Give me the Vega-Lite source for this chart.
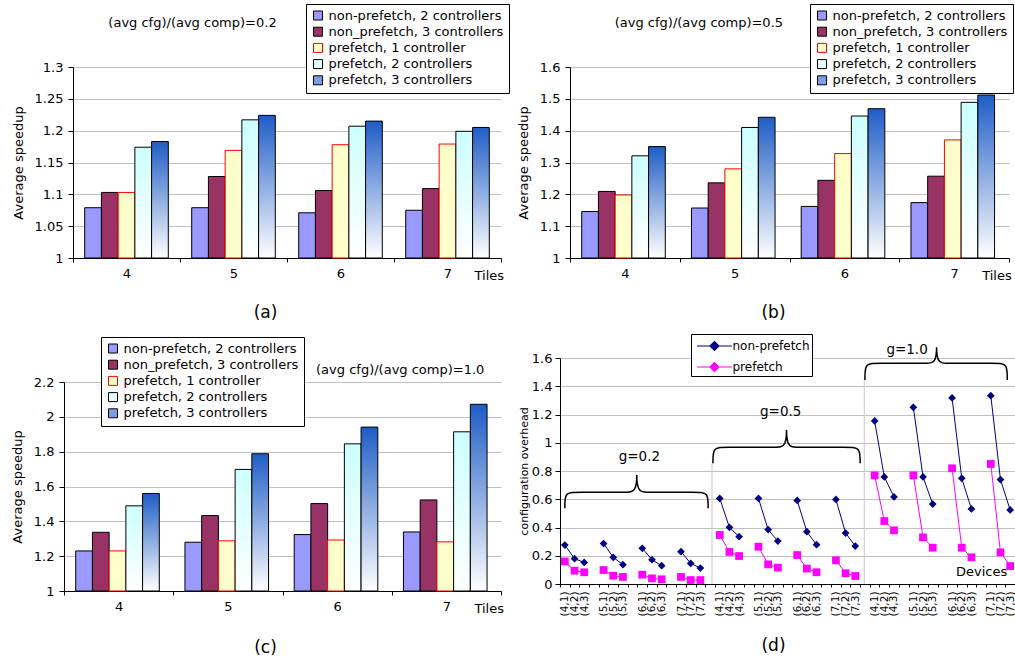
{
"$schema": "https://vega.github.io/schema/vega-lite/v6.json",
"background": "white",
"padding": {"left": 11, "top": 3, "right": 0, "bottom": 0},
"datasets": {
"a": [
{"t":"4","s":"non-prefetch, 2 controllers","v":1.079},{"t":"4","s":"non_prefetch, 3 controllers","v":1.103},{"t":"4","s":"prefetch, 1 controller","v":1.103},{"t":"4","s":"prefetch, 2 controllers","v":1.174},{"t":"4","s":"prefetch, 3 controllers","v":1.183},
{"t":"5","s":"non-prefetch, 2 controllers","v":1.079},{"t":"5","s":"non_prefetch, 3 controllers","v":1.128},{"t":"5","s":"prefetch, 1 controller","v":1.169},{"t":"5","s":"prefetch, 2 controllers","v":1.217},{"t":"5","s":"prefetch, 3 controllers","v":1.224},
{"t":"6","s":"non-prefetch, 2 controllers","v":1.071},{"t":"6","s":"non_prefetch, 3 controllers","v":1.106},{"t":"6","s":"prefetch, 1 controller","v":1.178},{"t":"6","s":"prefetch, 2 controllers","v":1.207},{"t":"6","s":"prefetch, 3 controllers","v":1.215},
{"t":"7","s":"non-prefetch, 2 controllers","v":1.075},{"t":"7","s":"non_prefetch, 3 controllers","v":1.109},{"t":"7","s":"prefetch, 1 controller","v":1.179},{"t":"7","s":"prefetch, 2 controllers","v":1.199},{"t":"7","s":"prefetch, 3 controllers","v":1.205}
],
"b": [
{"t":"4","s":"non-prefetch, 2 controllers","v":1.146},{"t":"4","s":"non_prefetch, 3 controllers","v":1.209},{"t":"4","s":"prefetch, 1 controller","v":1.198},{"t":"4","s":"prefetch, 2 controllers","v":1.321},{"t":"4","s":"prefetch, 3 controllers","v":1.350},
{"t":"5","s":"non-prefetch, 2 controllers","v":1.157},{"t":"5","s":"non_prefetch, 3 controllers","v":1.236},{"t":"5","s":"prefetch, 1 controller","v":1.280},{"t":"5","s":"prefetch, 2 controllers","v":1.410},{"t":"5","s":"prefetch, 3 controllers","v":1.442},
{"t":"6","s":"non-prefetch, 2 controllers","v":1.162},{"t":"6","s":"non_prefetch, 3 controllers","v":1.244},{"t":"6","s":"prefetch, 1 controller","v":1.328},{"t":"6","s":"prefetch, 2 controllers","v":1.446},{"t":"6","s":"prefetch, 3 controllers","v":1.469},
{"t":"7","s":"non-prefetch, 2 controllers","v":1.174},{"t":"7","s":"non_prefetch, 3 controllers","v":1.257},{"t":"7","s":"prefetch, 1 controller","v":1.371},{"t":"7","s":"prefetch, 2 controllers","v":1.489},{"t":"7","s":"prefetch, 3 controllers","v":1.512}
],
"c": [
{"t":"4","s":"non-prefetch, 2 controllers","v":1.230},{"t":"4","s":"non_prefetch, 3 controllers","v":1.337},{"t":"4","s":"prefetch, 1 controller","v":1.230},{"t":"4","s":"prefetch, 2 controllers","v":1.489},{"t":"4","s":"prefetch, 3 controllers","v":1.560},
{"t":"5","s":"non-prefetch, 2 controllers","v":1.280},{"t":"5","s":"non_prefetch, 3 controllers","v":1.433},{"t":"5","s":"prefetch, 1 controller","v":1.288},{"t":"5","s":"prefetch, 2 controllers","v":1.698},{"t":"5","s":"prefetch, 3 controllers","v":1.788},
{"t":"6","s":"non-prefetch, 2 controllers","v":1.324},{"t":"6","s":"non_prefetch, 3 controllers","v":1.502},{"t":"6","s":"prefetch, 1 controller","v":1.293},{"t":"6","s":"prefetch, 2 controllers","v":1.845},{"t":"6","s":"prefetch, 3 controllers","v":1.941},
{"t":"7","s":"non-prefetch, 2 controllers","v":1.339},{"t":"7","s":"non_prefetch, 3 controllers","v":1.523},{"t":"7","s":"prefetch, 1 controller","v":1.282},{"t":"7","s":"prefetch, 2 controllers","v":1.914},{"t":"7","s":"prefetch, 3 controllers","v":2.072}
],
"d": [
{"k":"0.2 (4,1)","grp":"0.2-4","non-prefetch":0.276,"prefetch":0.160},
{"k":"0.2 (4,2)","grp":"0.2-4","non-prefetch":0.179,"prefetch":0.094},
{"k":"0.2 (4,3)","grp":"0.2-4","non-prefetch":0.153,"prefetch":0.083},
{"k":"0.2 (5,1)","grp":"0.2-5","non-prefetch":0.286,"prefetch":0.099},
{"k":"0.2 (5,2)","grp":"0.2-5","non-prefetch":0.189,"prefetch":0.059},
{"k":"0.2 (5,3)","grp":"0.2-5","non-prefetch":0.137,"prefetch":0.050},
{"k":"0.2 (6,1)","grp":"0.2-6","non-prefetch":0.253,"prefetch":0.066},
{"k":"0.2 (6,2)","grp":"0.2-6","non-prefetch":0.172,"prefetch":0.040},
{"k":"0.2 (6,3)","grp":"0.2-6","non-prefetch":0.130,"prefetch":0.033},
{"k":"0.2 (7,1)","grp":"0.2-7","non-prefetch":0.229,"prefetch":0.050},
{"k":"0.2 (7,2)","grp":"0.2-7","non-prefetch":0.146,"prefetch":0.028},
{"k":"0.2 (7,3)","grp":"0.2-7","non-prefetch":0.113,"prefetch":0.028},
{"k":"0.5 (4,1)","grp":"0.5-4","non-prefetch":0.606,"prefetch":0.347},
{"k":"0.5 (4,2)","grp":"0.5-4","non-prefetch":0.401,"prefetch":0.227},
{"k":"0.5 (4,3)","grp":"0.5-4","non-prefetch":0.335,"prefetch":0.198},
{"k":"0.5 (5,1)","grp":"0.5-5","non-prefetch":0.606,"prefetch":0.264},
{"k":"0.5 (5,2)","grp":"0.5-5","non-prefetch":0.385,"prefetch":0.139},
{"k":"0.5 (5,3)","grp":"0.5-5","non-prefetch":0.304,"prefetch":0.116},
{"k":"0.5 (6,1)","grp":"0.5-6","non-prefetch":0.592,"prefetch":0.205},
{"k":"0.5 (6,2)","grp":"0.5-6","non-prefetch":0.370,"prefetch":0.109},
{"k":"0.5 (6,3)","grp":"0.5-6","non-prefetch":0.278,"prefetch":0.083},
{"k":"0.5 (7,1)","grp":"0.5-7","non-prefetch":0.599,"prefetch":0.168},
{"k":"0.5 (7,2)","grp":"0.5-7","non-prefetch":0.361,"prefetch":0.076},
{"k":"0.5 (7,3)","grp":"0.5-7","non-prefetch":0.269,"prefetch":0.057},
{"k":"1.0 (4,1)","grp":"1.0-4","non-prefetch":1.154,"prefetch":0.769},
{"k":"1.0 (4,2)","grp":"1.0-4","non-prefetch":0.758,"prefetch":0.446},
{"k":"1.0 (4,3)","grp":"1.0-4","non-prefetch":0.616,"prefetch":0.380},
{"k":"1.0 (5,1)","grp":"1.0-5","non-prefetch":1.251,"prefetch":0.769},
{"k":"1.0 (5,2)","grp":"1.0-5","non-prefetch":0.758,"prefetch":0.330},
{"k":"1.0 (5,3)","grp":"1.0-5","non-prefetch":0.566,"prefetch":0.257},
{"k":"1.0 (6,1)","grp":"1.0-6","non-prefetch":1.317,"prefetch":0.819},
{"k":"1.0 (6,2)","grp":"1.0-6","non-prefetch":0.748,"prefetch":0.257},
{"k":"1.0 (6,3)","grp":"1.0-6","non-prefetch":0.531,"prefetch":0.189},
{"k":"1.0 (7,1)","grp":"1.0-7","non-prefetch":1.333,"prefetch":0.850},
{"k":"1.0 (7,2)","grp":"1.0-7","non-prefetch":0.739,"prefetch":0.224},
{"k":"1.0 (7,3)","grp":"1.0-7","non-prefetch":0.524,"prefetch":0.127}
],
"braces": [
{"b":"0.2","i":0,"x":0.0,"y":0.536},{"b":"0.2","i":1,"x":0.0,"y":0.649},{"b":"0.2","i":2,"x":1.0,"y":0.649},{"b":"0.2","i":3,"x":6.4,"y":0.649},{"b":"0.2","i":4,"x":7.43,"y":0.649},{"b":"0.2","i":5,"x":7.43,"y":0.834},{"b":"0.2","i":6,"x":7.43,"y":0.649},{"b":"0.2","i":7,"x":8.46,"y":0.649},{"b":"0.2","i":8,"x":13.8,"y":0.649},{"b":"0.2","i":9,"x":14.8,"y":0.649},{"b":"0.2","i":10,"x":14.8,"y":0.536},
{"b":"0.5","i":0,"x":15.3,"y":0.854},{"b":"0.5","i":1,"x":15.3,"y":0.9675},{"b":"0.5","i":2,"x":16.3,"y":0.9675},{"b":"0.5","i":3,"x":21.9,"y":0.9675},{"b":"0.5","i":4,"x":22.9,"y":0.9675},{"b":"0.5","i":5,"x":22.9,"y":1.151},{"b":"0.5","i":6,"x":22.9,"y":0.9675},{"b":"0.5","i":7,"x":23.9,"y":0.9675},{"b":"0.5","i":8,"x":29.5,"y":0.9675},{"b":"0.5","i":9,"x":30.5,"y":0.9675},{"b":"0.5","i":10,"x":30.5,"y":0.854},
{"b":"1.0","i":0,"x":31.0,"y":1.444},{"b":"1.0","i":1,"x":31.0,"y":1.562},{"b":"1.0","i":2,"x":32.0,"y":1.562},{"b":"1.0","i":3,"x":37.4,"y":1.562},{"b":"1.0","i":4,"x":38.4,"y":1.562},{"b":"1.0","i":5,"x":38.4,"y":1.732},{"b":"1.0","i":6,"x":38.4,"y":1.562},{"b":"1.0","i":7,"x":39.4,"y":1.562},{"b":"1.0","i":8,"x":44.7,"y":1.562},{"b":"1.0","i":9,"x":45.7,"y":1.562},{"b":"1.0","i":10,"x":45.7,"y":1.444}
],
"bl": [
{"lab":"g=0.2","x":7.7,"y":0.901},{"lab":"g=0.5","x":22.3,"y":1.22},{"lab":"g=1.0","x":35.35,"y":1.657}
],
"sep": [
{"x":15.2,"y":0.854},{"x":30.93,"y":1.444}
]
},
"resolve": {"scale": {"fill": "independent", "stroke": "independent", "shape": "independent"}, "legend": {"fill": "independent", "stroke": "independent", "shape": "independent"}},
"spacing": 7,
"hconcat": [
{
"spacing": 16,
"resolve": {"scale": {"fill": "independent", "stroke": "independent", "shape": "independent"}, "legend": {"fill": "independent", "stroke": "independent", "shape": "independent"}},
"vconcat": [
{
"width": 428, "height": 191,
"layer": [
{"data": {"name": "a"},
"mark": {"type": "bar", "strokeWidth": 1},
"encoding": {
"x": {"field": "t", "type": "nominal", "scale": {"paddingInner": 0, "paddingOuter": 0}, "axis": {"title": "(a)", "titleX": 192, "titleY": 54, "titleBaseline": "middle", "titleFontSize": 17, "labelAngle": 0, "tickBand": "extent", "tickSize": 4, "grid": false}},
"xOffset": {"field": "s", "type": "nominal", "sort": null, "scale": {"domain": ["non-prefetch, 2 controllers","non_prefetch, 3 controllers","prefetch, 1 controller","prefetch, 2 controllers","prefetch, 3 controllers"], "paddingInner": 0, "paddingOuter": 0.7}},
"y": {"field": "v", "type": "quantitative", "scale": {"domain": [1, 1.3], "nice": false, "zero": false}, "axis": {"title": "Average speedup", "values": [1,1.05,1.1,1.15,1.2,1.25,1.3], "tickCount": 100, "format": "~g", "titlePadding": 9}},
"y2": {"datum": 1},
"fill": {"condition": [
{"test": "datum.s === 'prefetch, 2 controllers'", "value": {"gradient": "linear", "x1": 0, "y1": 0, "x2": 0, "y2": 1, "stops": [{"offset": 0, "color": "#CCFFFF"}, {"offset": 1, "color": "#FFFFFF"}]}},
{"test": "datum.s === 'prefetch, 3 controllers'", "value": {"gradient": "linear", "x1": 0, "y1": 0, "x2": 0, "y2": 1, "stops": [{"offset": 0, "color": "#1F5DC6"}, {"offset": 1, "color": "#FFFFFF"}]}}],
"field": "s", "type": "nominal",
"scale": {"domain": ["non-prefetch, 2 controllers","non_prefetch, 3 controllers","prefetch, 1 controller","prefetch, 2 controllers","prefetch, 3 controllers"], "range": ["#9999FF","#993366","#FFFFCC","#E6FFFF","#7E9CE0"]},
"legend": {"title": null, "orient": "none", "legendX": 233, "legendY": -63, "strokeColor": "black", "fillColor": "white", "padding": 5, "rowPadding": 2.2, "labelOffset": 4, "symbolOffset": 0.5, "symbolType": "square", "symbolSize": 81, "symbolStrokeWidth": 1, "labelFontSize": 13, "labelLimit": 300}},
"stroke": {"field": "s", "type": "nominal",
"scale": {"domain": ["non-prefetch, 2 controllers","non_prefetch, 3 controllers","prefetch, 1 controller","prefetch, 2 controllers","prefetch, 3 controllers"], "range": ["#000000","#000000","#FF0000","#000000","#000000"]},
"legend": {"title": null, "orient": "none", "legendX": 233, "legendY": -63, "strokeColor": "black", "fillColor": "white", "padding": 5, "rowPadding": 2.2, "labelOffset": 4, "symbolOffset": 0.5, "symbolType": "square", "symbolSize": 81, "symbolStrokeWidth": 1, "labelFontSize": 13, "labelLimit": 300}}
}},
{"data": {"values": [{"lab": "Tiles"}]},
"mark": {"type": "text", "align": "left", "baseline": "middle", "dx": 27, "dy": 18, "fontSize": 13},
"encoding": {"x": {"datum": "7"}, "y": {"datum": 1}, "text": {"field": "lab"}}},
{"data": {"values": [{"lab": "(avg cfg)/(avg comp)=0.2"}]},
"mark": {"type": "text", "align": "center", "baseline": "middle", "dx": 66, "dy": -44, "fontSize": 13},
"encoding": {"x": {"datum": "4"}, "y": {"datum": 1.3}, "text": {"field": "lab"}}}
]
},
{
"width": 428, "height": 209,
"layer": [
{"data": {"name": "c"},
"mark": {"type": "bar", "strokeWidth": 1},
"encoding": {
"x": {"field": "t", "type": "nominal", "scale": {"paddingInner": 0, "paddingOuter": 0, "range": [-9, 428]}, "axis": {"title": "(c)", "titleX": 192, "titleY": 56, "titleBaseline": "middle", "titleFontSize": 17, "labelAngle": 0, "tickBand": "extent", "tickSize": 4, "grid": false}},
"xOffset": {"field": "s", "type": "nominal", "sort": null, "scale": {"domain": ["non-prefetch, 2 controllers","non_prefetch, 3 controllers","prefetch, 1 controller","prefetch, 2 controllers","prefetch, 3 controllers"], "paddingInner": 0, "paddingOuter": 0.75}},
"y": {"field": "v", "type": "quantitative", "scale": {"domain": [1, 2.2], "nice": false, "zero": false}, "axis": {"title": "Average speedup", "values": [1,1.2,1.4,1.6,1.8,2,2.2], "tickCount": 100, "format": "~g", "titlePadding": 9, "offset": 9}},
"y2": {"datum": 1},
"fill": {"condition": [
{"test": "datum.s === 'prefetch, 2 controllers'", "value": {"gradient": "linear", "x1": 0, "y1": 0, "x2": 0, "y2": 1, "stops": [{"offset": 0, "color": "#CCFFFF"}, {"offset": 1, "color": "#FFFFFF"}]}},
{"test": "datum.s === 'prefetch, 3 controllers'", "value": {"gradient": "linear", "x1": 0, "y1": 0, "x2": 0, "y2": 1, "stops": [{"offset": 0, "color": "#1F5DC6"}, {"offset": 1, "color": "#FFFFFF"}]}}],
"field": "s", "type": "nominal",
"scale": {"domain": ["non-prefetch, 2 controllers","non_prefetch, 3 controllers","prefetch, 1 controller","prefetch, 2 controllers","prefetch, 3 controllers"], "range": ["#9999FF","#993366","#FFFFCC","#E6FFFF","#7E9CE0"]},
"legend": {"title": null, "orient": "none", "legendX": 28, "legendY": -45, "strokeColor": "black", "fillColor": "white", "padding": 5, "rowPadding": 2.2, "labelOffset": 4, "symbolOffset": 0.5, "symbolType": "square", "symbolSize": 81, "symbolStrokeWidth": 1, "labelFontSize": 13, "labelLimit": 300}},
"stroke": {"field": "s", "type": "nominal",
"scale": {"domain": ["non-prefetch, 2 controllers","non_prefetch, 3 controllers","prefetch, 1 controller","prefetch, 2 controllers","prefetch, 3 controllers"], "range": ["#000000","#000000","#FF0000","#000000","#000000"]},
"legend": {"title": null, "orient": "none", "legendX": 28, "legendY": -45, "strokeColor": "black", "fillColor": "white", "padding": 5, "rowPadding": 2.2, "labelOffset": 4, "symbolOffset": 0.5, "symbolType": "square", "symbolSize": 81, "symbolStrokeWidth": 1, "labelFontSize": 13, "labelLimit": 300}}
}},
{"data": {"values": [{"lab": "Tiles"}]},
"mark": {"type": "text", "align": "left", "baseline": "middle", "dx": 28, "dy": 18, "fontSize": 13},
"encoding": {"x": {"datum": "7"}, "y": {"datum": 1}, "text": {"field": "lab"}}},
{"data": {"values": [{"lab": "(avg cfg)/(avg comp)=1.0"}]},
"mark": {"type": "text", "align": "right", "baseline": "middle", "dx": 38, "dy": -12, "fontSize": 13},
"encoding": {"x": {"datum": "7"}, "y": {"datum": 2.2}, "text": {"field": "lab"}}}
]
}
]
},
{
"spacing": 13,
"resolve": {"scale": {"fill": "independent", "stroke": "independent", "shape": "independent"}, "legend": {"fill": "independent", "stroke": "independent", "shape": "independent"}},
"vconcat": [
{
"width": 439, "height": 191,
"layer": [
{"data": {"name": "b"},
"mark": {"type": "bar", "strokeWidth": 1},
"encoding": {
"x": {"field": "t", "type": "nominal", "scale": {"paddingInner": 0, "paddingOuter": 0}, "axis": {"title": "(b)", "titleX": 203, "titleY": 54, "titleBaseline": "middle", "titleFontSize": 17, "labelAngle": 0, "tickBand": "extent", "tickSize": 4, "grid": false}},
"xOffset": {"field": "s", "type": "nominal", "sort": null, "scale": {"domain": ["non-prefetch, 2 controllers","non_prefetch, 3 controllers","prefetch, 1 controller","prefetch, 2 controllers","prefetch, 3 controllers"], "paddingInner": 0, "paddingOuter": 0.77}},
"y": {"field": "v", "type": "quantitative", "scale": {"domain": [1, 1.6], "nice": false, "zero": false}, "axis": {"title": "Average speedup", "values": [1,1.1,1.2,1.3,1.4,1.5,1.6], "tickCount": 100, "format": "~g", "titlePadding": 9}},
"y2": {"datum": 1},
"fill": {"condition": [
{"test": "datum.s === 'prefetch, 2 controllers'", "value": {"gradient": "linear", "x1": 0, "y1": 0, "x2": 0, "y2": 1, "stops": [{"offset": 0, "color": "#CCFFFF"}, {"offset": 1, "color": "#FFFFFF"}]}},
{"test": "datum.s === 'prefetch, 3 controllers'", "value": {"gradient": "linear", "x1": 0, "y1": 0, "x2": 0, "y2": 1, "stops": [{"offset": 0, "color": "#1F5DC6"}, {"offset": 1, "color": "#FFFFFF"}]}}],
"field": "s", "type": "nominal",
"scale": {"domain": ["non-prefetch, 2 controllers","non_prefetch, 3 controllers","prefetch, 1 controller","prefetch, 2 controllers","prefetch, 3 controllers"], "range": ["#9999FF","#993366","#FFFFCC","#E6FFFF","#7E9CE0"]},
"legend": {"title": null, "orient": "none", "legendX": 240, "legendY": -63, "strokeColor": "black", "fillColor": "white", "padding": 5, "rowPadding": 2.2, "labelOffset": 4, "symbolOffset": 0.5, "symbolType": "square", "symbolSize": 81, "symbolStrokeWidth": 1, "labelFontSize": 13, "labelLimit": 300}},
"stroke": {"field": "s", "type": "nominal",
"scale": {"domain": ["non-prefetch, 2 controllers","non_prefetch, 3 controllers","prefetch, 1 controller","prefetch, 2 controllers","prefetch, 3 controllers"], "range": ["#000000","#000000","#FF0000","#000000","#000000"]},
"legend": {"title": null, "orient": "none", "legendX": 240, "legendY": -63, "strokeColor": "black", "fillColor": "white", "padding": 5, "rowPadding": 2.2, "labelOffset": 4, "symbolOffset": 0.5, "symbolType": "square", "symbolSize": 81, "symbolStrokeWidth": 1, "labelFontSize": 13, "labelLimit": 300}}
}},
{"data": {"values": [{"lab": "Tiles"}]},
"mark": {"type": "text", "align": "left", "baseline": "middle", "dx": 28, "dy": 18, "fontSize": 13},
"encoding": {"x": {"datum": "7"}, "y": {"datum": 1}, "text": {"field": "lab"}}},
{"data": {"values": [{"lab": "(avg cfg)/(avg comp)=0.5"}]},
"mark": {"type": "text", "align": "center", "baseline": "middle", "dx": 74, "dy": -44, "fontSize": 13},
"encoding": {"x": {"datum": "4"}, "y": {"datum": 1.6}, "text": {"field": "lab"}}}
]
},
{
"width": 445, "height": 226,
"resolve": {"scale": {"x": "independent"}},
"layer": [
{"layer": [
{"data": {"name": "d"},
"transform": [{"fold": ["non-prefetch", "prefetch"], "as": ["series", "val"]}],
"mark": {"type": "line", "strokeWidth": 1},
"encoding": {
"x": {"field": "k", "type": "nominal", "scale": {"type": "band", "paddingInner": 0, "paddingOuter": 0, "range": [-10, 445], "domain": ["0.2 (4,1)","0.2 (4,2)","0.2 (4,3)","0.2 gap4","0.2 (5,1)","0.2 (5,2)","0.2 (5,3)","0.2 gap5","0.2 (6,1)","0.2 (6,2)","0.2 (6,3)","0.2 gap6","0.2 (7,1)","0.2 (7,2)","0.2 (7,3)","0.2 gap7","0.5 (4,1)","0.5 (4,2)","0.5 (4,3)","0.5 gap4","0.5 (5,1)","0.5 (5,2)","0.5 (5,3)","0.5 gap5","0.5 (6,1)","0.5 (6,2)","0.5 (6,3)","0.5 gap6","0.5 (7,1)","0.5 (7,2)","0.5 (7,3)","0.5 gap7","1.0 (4,1)","1.0 (4,2)","1.0 (4,3)","1.0 gap4","1.0 (5,1)","1.0 (5,2)","1.0 (5,3)","1.0 gap5","1.0 (6,1)","1.0 (6,2)","1.0 (6,3)","1.0 gap6","1.0 (7,1)","1.0 (7,2)","1.0 (7,3)"]},
"axis": {"title": "(d)", "titleX": 203, "titleY": 61, "titleBaseline": "middle", "titleFontSize": 17, "labelAngle": -90, "labelFontSize": 10.5, "labelOverlap": false, "labelPadding": 4, "tickSize": 3, "tickBand": "extent", "grid": false, "labelExpr": "indexof(datum.label, 'gap') >= 0 ? '' : split(datum.label, ' ')[1]"}},
"y": {"field": "val", "type": "quantitative", "title": "configuration overhead", "scale": {"domain": [0, 1.6], "nice": false}, "axis": {"values": [0,0.2,0.4,0.6,0.8,1,1.2,1.4,1.6], "tickCount": 100, "format": "~g", "titleFontSize": 11, "titlePadding": 2, "labelPadding": 3, "offset": 10}},
"stroke": {"field": "series", "type": "nominal", "scale": {"domain": ["non-prefetch", "prefetch"], "range": ["#000080", "#FF00FF"]},
"legend": {"title": null, "orient": "none", "legendX": 121, "legendY": -24, "strokeColor": "black", "fillColor": "white", "padding": 2, "rowPadding": 4, "labelFontSize": 12, "labelOffset": 8, "symbolOffset": 11.5, "symbolSize": 324, "symbolType": "M-1.94,0H1.94M-0.5,0L0,-0.5L0.5,0L0,0.5Z", "symbolStrokeWidth": 1.2}},
"detail": {"field": "grp"}
}},
{"data": {"name": "d"},
"transform": [{"fold": ["non-prefetch", "prefetch"], "as": ["series", "val"]}],
"mark": {"type": "point", "filled": true, "size": 60, "opacity": 1},
"encoding": {
"x": {"field": "k", "type": "nominal"},
"y": {"field": "val", "type": "quantitative", "title": "configuration overhead"},
"shape": {"field": "series", "type": "nominal", "scale": {"range": ["diamond", "square"]}, "legend": null},
"fill": {"field": "series", "type": "nominal", "scale": {"domain": ["non-prefetch", "prefetch"], "range": ["#000080", "#FF00FF"]},
"legend": {"title": null, "orient": "none", "legendX": 121, "legendY": -24, "strokeColor": "black", "fillColor": "white", "padding": 2, "rowPadding": 4, "labelFontSize": 12, "labelOffset": 8, "symbolOffset": 11.5, "symbolSize": 324, "symbolType": "M-1.94,0H1.94M-0.5,0L0,-0.5L0.5,0L0,0.5Z", "symbolStrokeWidth": 1.2}}
}},
{"data": {"values": [{"lab": "Devices"}]},
"mark": {"type": "text", "align": "right", "baseline": "middle", "dx": -3, "dy": -12, "fontSize": 13},
"encoding": {"x": {"datum": "1.0 (7,3)"}, "y": {"datum": 0}, "text": {"field": "lab"}}}
]},
{"layer": [
{"data": {"name": "sep"},
"mark": {"type": "rule", "color": "#C8C8C8", "strokeWidth": 1},
"encoding": {"x": {"field": "x", "type": "quantitative", "scale": {"domain": [-0.5, 46.5], "range": [-10, 445], "nice": false, "zero": false}, "axis": null}, "y": {"field": "y", "type": "quantitative", "title": "configuration overhead"}, "y2": {"datum": 0}}},
{"data": {"name": "braces"},
"mark": {"type": "line", "color": "black", "strokeWidth": 1.5, "interpolate": "basis"},
"encoding": {"x": {"field": "x", "type": "quantitative"}, "y": {"field": "y", "type": "quantitative", "title": "configuration overhead"}, "detail": {"field": "b"}, "order": {"field": "i"}}},
{"data": {"name": "bl"},
"mark": {"type": "text", "fontSize": 13.5, "baseline": "middle"},
"encoding": {"x": {"field": "x", "type": "quantitative"}, "y": {"field": "y", "type": "quantitative", "title": "configuration overhead"}, "text": {"field": "lab"}}}
]}
]
}
]
}
],
"config": {
"font": "DejaVu Sans",
"view": {"stroke": null},
"axis": {"domainColor": "black", "tickColor": "black", "labelColor": "black", "titleColor": "black", "labelFontSize": 13, "titleFontSize": 13, "titleFontWeight": "normal", "gridColor": "#C0C0C0", "tickSize": 5, "labelPadding": 5},
"legend": {"labelColor": "black", "labelFontSize": 13},
"title": {"fontSize": 13, "fontWeight": "normal", "color": "black"},
"text": {"color": "black"}
}
}
